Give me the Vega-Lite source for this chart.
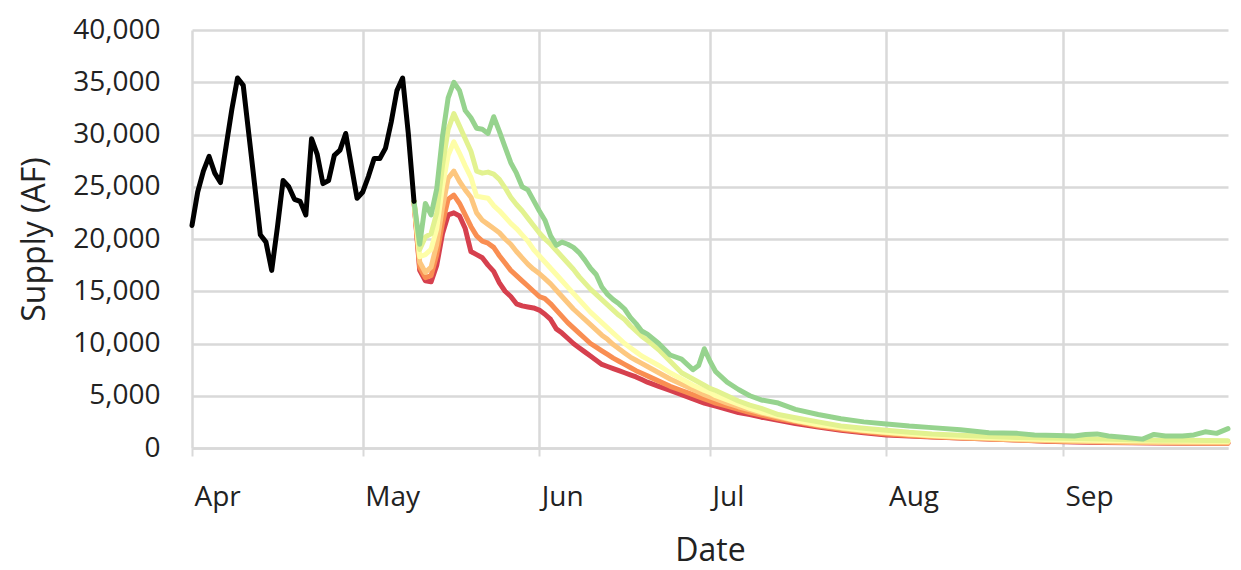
{
  "$schema": "https://vega.github.io/schema/vega-lite/v6.json",
  "width": 1036,
  "height": 418,
  "autosize": {"type": "none"},
  "padding": {"left": 192, "top": 30, "right": 13, "bottom": 122},
  "background": "white",
  "config": {
    "view": {"stroke": null},
    "font": "Open Sans",
    "mark": {"invalid": "filter"},
    "axisY": {"format": ",.0f", "labelFontSize": 28, "labelFont": "Open Sans", "labelColor": "#222222", "labelPadding": 32, "ticks": false, "domain": false, "grid": true, "gridColor": "#d9d9d9", "gridWidth": 2.5, "titleFontSize": 32, "titleFontWeight": "normal", "titleFont": "Open Sans", "titleColor": "#222222", "titleAngle": -90, "titleX": -148, "titleY": 209, "titleAlign": "center", "titleBaseline": "alphabetic"}
  },
  "data": {"values": [
    {"date": "2021-04-01", "Obs": 21300},
    {"date": "2021-04-02", "Obs": 24500},
    {"date": "2021-04-03", "Obs": 26500},
    {"date": "2021-04-04", "Obs": 27900},
    {"date": "2021-04-05", "Obs": 26300},
    {"date": "2021-04-06", "Obs": 25400},
    {"date": "2021-04-07", "Obs": 28900},
    {"date": "2021-04-08", "Obs": 32400},
    {"date": "2021-04-09", "Obs": 35400},
    {"date": "2021-04-10", "Obs": 34700},
    {"date": "2021-04-11", "Obs": 29950},
    {"date": "2021-04-12", "Obs": 25200},
    {"date": "2021-04-13", "Obs": 20400},
    {"date": "2021-04-14", "Obs": 19700},
    {"date": "2021-04-15", "Obs": 17000},
    {"date": "2021-04-16", "Obs": 21100},
    {"date": "2021-04-17", "Obs": 25600},
    {"date": "2021-04-18", "Obs": 25000},
    {"date": "2021-04-19", "Obs": 23800},
    {"date": "2021-04-20", "Obs": 23600},
    {"date": "2021-04-21", "Obs": 22300},
    {"date": "2021-04-22", "Obs": 29600},
    {"date": "2021-04-23", "Obs": 28100},
    {"date": "2021-04-24", "Obs": 25300},
    {"date": "2021-04-25", "Obs": 25600},
    {"date": "2021-04-26", "Obs": 28000},
    {"date": "2021-04-27", "Obs": 28500},
    {"date": "2021-04-28", "Obs": 30100},
    {"date": "2021-04-29", "Obs": 27000},
    {"date": "2021-04-30", "Obs": 23900},
    {"date": "2021-05-01", "Obs": 24500},
    {"date": "2021-05-02", "Obs": 26000},
    {"date": "2021-05-03", "Obs": 27700},
    {"date": "2021-05-04", "Obs": 27700},
    {"date": "2021-05-05", "Obs": 28700},
    {"date": "2021-05-06", "Obs": 31200},
    {"date": "2021-05-07", "Obs": 34200},
    {"date": "2021-05-08", "Obs": 35400},
    {"date": "2021-05-09", "Obs": 30100},
    {"date": "2021-05-10", "Obs": 23600, "G": 23600, "YG": 23600, "PY": 23600, "LO": 23600, "O": 23600, "R": 23600},
    {"date": "2021-05-11", "G": 19500, "YG": 19000, "PY": 18300, "LO": 17800, "O": 17300, "R": 17000},
    {"date": "2021-05-12", "G": 23400, "YG": 20200, "PY": 18500, "LO": 16800, "O": 16300, "R": 16000},
    {"date": "2021-05-13", "G": 22300, "YG": 20500, "PY": 19000, "LO": 17300, "O": 16500, "R": 15900},
    {"date": "2021-05-14", "G": 24800, "YG": 22500, "PY": 21000, "LO": 19500, "O": 18500, "R": 17500},
    {"date": "2021-05-15", "G": 29800, "YG": 27000, "PY": 25000, "LO": 23000, "O": 21500, "R": 20500},
    {"date": "2021-05-16", "G": 33500, "YG": 30500, "PY": 28000, "LO": 25800, "O": 23800, "R": 22300},
    {"date": "2021-05-17", "G": 35000, "YG": 32000, "PY": 29300, "LO": 26500, "O": 24200, "R": 22500},
    {"date": "2021-05-18", "G": 34200, "YG": 30800, "PY": 28200, "LO": 25500, "O": 23400, "R": 22200},
    {"date": "2021-05-19", "G": 32300, "YG": 29600, "PY": 27000, "LO": 24700, "O": 22300, "R": 21000},
    {"date": "2021-05-20", "G": 31600, "YG": 28400, "PY": 25900, "LO": 24000, "O": 21200, "R": 18800},
    {"date": "2021-05-21", "G": 30600, "YG": 26500, "PY": 24100, "LO": 22500, "O": 20300, "R": 18500},
    {"date": "2021-05-22", "G": 30500, "YG": 26300, "PY": 24000, "LO": 21800, "O": 19800, "R": 18200},
    {"date": "2021-05-23", "G": 30100, "YG": 26400, "PY": 23900, "LO": 21400, "O": 19600, "R": 17500},
    {"date": "2021-05-24", "G": 31700, "YG": 26200, "PY": 23200, "LO": 21000, "O": 19200, "R": 16900},
    {"date": "2021-05-25", "G": 30300, "YG": 25700, "PY": 22700, "LO": 20600, "O": 18400, "R": 15800},
    {"date": "2021-05-26", "G": 28800, "YG": 24900, "PY": 22100, "LO": 20000, "O": 17700, "R": 15000},
    {"date": "2021-05-27", "G": 27300, "YG": 24000, "PY": 21500, "LO": 19500, "O": 17000, "R": 14500},
    {"date": "2021-05-28", "G": 26300, "YG": 23300, "PY": 21000, "LO": 18800, "O": 16500, "R": 13800},
    {"date": "2021-05-29", "G": 25000, "YG": 22700, "PY": 20400, "LO": 18200, "O": 16000, "R": 13600},
    {"date": "2021-05-30", "G": 24700, "YG": 22000, "PY": 19800, "LO": 17600, "O": 15500, "R": 13500},
    {"date": "2021-05-31", "G": 23700, "YG": 21300, "PY": 19000, "LO": 17100, "O": 15000, "R": 13400},
    {"date": "2021-06-01", "G": 22700, "YG": 20600, "PY": 18400, "LO": 16700, "O": 14500, "R": 13200},
    {"date": "2021-06-02", "G": 21800, "YG": 20000, "PY": 17800, "LO": 16200, "O": 14300, "R": 12800},
    {"date": "2021-06-03", "G": 20300, "YG": 19500, "PY": 17200, "LO": 15700, "O": 13800, "R": 12300},
    {"date": "2021-06-04", "G": 19400, "YG": 18900, "PY": 16600, "LO": 15100, "O": 13200, "R": 11400},
    {"date": "2021-06-05", "G": 19700, "YG": 18300, "PY": 16000, "LO": 14500, "O": 12600, "R": 11000},
    {"date": "2021-06-06", "G": 19500, "YG": 17700, "PY": 15400, "LO": 13900, "O": 12000, "R": 10500},
    {"date": "2021-06-07", "G": 19200, "YG": 17100, "PY": 14800, "LO": 13300, "O": 11500, "R": 10000},
    {"date": "2021-06-08", "G": 18700, "YG": 16400, "PY": 14200, "LO": 12800, "O": 11000, "R": 9600},
    {"date": "2021-06-09", "G": 18000, "YG": 15800, "PY": 13600, "LO": 12300, "O": 10500, "R": 9200},
    {"date": "2021-06-10", "G": 17200, "YG": 15200, "PY": 13000, "LO": 11800, "O": 10000, "R": 8800},
    {"date": "2021-06-11", "G": 16600, "YG": 14700, "PY": 12500, "LO": 11300, "O": 9650, "R": 8400},
    {"date": "2021-06-12", "G": 15400, "YG": 14200, "PY": 12000, "LO": 10800, "O": 9300, "R": 8000},
    {"date": "2021-06-13", "G": 14700, "YG": 13700, "PY": 11500, "LO": 10400, "O": 8950, "R": 7800},
    {"date": "2021-06-14", "G": 14200, "YG": 13200, "PY": 11000, "LO": 9900, "O": 8600, "R": 7600},
    {"date": "2021-06-15", "G": 13800, "YG": 12700, "PY": 10500, "LO": 9500, "O": 8300, "R": 7400},
    {"date": "2021-06-16", "G": 13300, "YG": 12300, "PY": 10000, "LO": 9100, "O": 8000, "R": 7200},
    {"date": "2021-06-17", "G": 12500, "YG": 11700, "PY": 9600, "LO": 8700, "O": 7700, "R": 7000},
    {"date": "2021-06-18", "G": 11900, "YG": 11200, "PY": 9200, "LO": 8400, "O": 7400, "R": 6800},
    {"date": "2021-06-19", "G": 11200, "YG": 10700, "PY": 8800, "LO": 8100, "O": 7150, "R": 6550},
    {"date": "2021-06-20", "G": 10900, "YG": 10300, "PY": 8500, "LO": 7800, "O": 6900, "R": 6300},
    {"date": "2021-06-22", "G": 10000, "YG": 9400, "PY": 7900, "LO": 7200, "O": 6400, "R": 5900},
    {"date": "2021-06-24", "G": 8900, "YG": 8300, "PY": 7200, "LO": 6600, "O": 5900, "R": 5500},
    {"date": "2021-06-26", "G": 8500, "YG": 7200, "PY": 6600, "LO": 6100, "O": 5500, "R": 5100},
    {"date": "2021-06-28", "G": 7500, "YG": 6600, "PY": 6000, "LO": 5600, "O": 5100, "R": 4700},
    {"date": "2021-06-29", "G": 7900},
    {"date": "2021-06-30", "G": 9500, "YG": 6000, "PY": 5500, "LO": 5100, "O": 4700, "R": 4300},
    {"date": "2021-07-01", "G": 8300, "YG": 5700, "PY": 5300, "LO": 4900, "O": 4500, "R": 4150},
    {"date": "2021-07-02", "G": 7300, "YG": 5500, "PY": 5000, "LO": 4700, "O": 4300, "R": 4000},
    {"date": "2021-07-04", "G": 6300, "YG": 5000, "PY": 4600, "LO": 4300, "O": 4000, "R": 3700},
    {"date": "2021-07-06", "G": 5600, "YG": 4500, "PY": 4200, "LO": 3950, "O": 3700, "R": 3400},
    {"date": "2021-07-08", "G": 5000, "YG": 4100, "PY": 3800, "LO": 3650, "O": 3400, "R": 3200},
    {"date": "2021-07-10", "G": 4600, "YG": 3800, "PY": 3450, "LO": 3350, "O": 3150, "R": 2950},
    {"date": "2021-07-13", "G": 4300, "YG": 3200, "PY": 3050, "LO": 2950, "O": 2800, "R": 2650},
    {"date": "2021-07-16", "G": 3700, "YG": 2900, "PY": 2650, "LO": 2600, "O": 2500, "R": 2350},
    {"date": "2021-07-20", "G": 3200, "YG": 2500, "PY": 2250, "LO": 2200, "O": 2100, "R": 2000},
    {"date": "2021-07-24", "G": 2800, "YG": 2100, "PY": 1950, "LO": 1900, "O": 1800, "R": 1700},
    {"date": "2021-07-28", "G": 2500, "YG": 1900, "PY": 1700, "LO": 1650, "O": 1550, "R": 1450},
    {"date": "2021-08-01", "G": 2300, "YG": 1700, "PY": 1500, "LO": 1450, "O": 1350, "R": 1250},
    {"date": "2021-08-05", "G": 2100, "YG": 1500, "PY": 1350, "LO": 1300, "O": 1200, "R": 1150},
    {"date": "2021-08-09", "G": 1950, "YG": 1350, "PY": 1200, "LO": 1150, "O": 1080, "R": 1050},
    {"date": "2021-08-14", "G": 1750, "YG": 1230, "PY": 1080, "LO": 1000, "O": 950, "R": 950},
    {"date": "2021-08-19", "G": 1450, "YG": 1100, "PY": 980, "LO": 900, "O": 850, "R": 850},
    {"date": "2021-08-24", "G": 1400, "YG": 1000, "PY": 890, "LO": 800, "O": 760, "R": 760},
    {"date": "2021-08-27", "G": 1250},
    {"date": "2021-08-29", "YG": 950, "PY": 820, "LO": 720, "O": 680, "R": 650},
    {"date": "2021-08-31", "G": 1200},
    {"date": "2021-09-03", "G": 1150, "YG": 900, "PY": 760, "LO": 650, "O": 620, "R": 580},
    {"date": "2021-09-05", "G": 1300},
    {"date": "2021-09-07", "G": 1350},
    {"date": "2021-09-08", "YG": 850, "PY": 720, "LO": 600, "O": 570, "R": 530},
    {"date": "2021-09-09", "G": 1150},
    {"date": "2021-09-12", "G": 1000},
    {"date": "2021-09-13", "YG": 800, "PY": 690, "LO": 560, "O": 530, "R": 500},
    {"date": "2021-09-15", "G": 850},
    {"date": "2021-09-17", "G": 1300},
    {"date": "2021-09-18", "YG": 750, "PY": 660, "LO": 530, "O": 500, "R": 480},
    {"date": "2021-09-19", "G": 1150},
    {"date": "2021-09-22", "G": 1150},
    {"date": "2021-09-23", "YG": 750, "PY": 640, "LO": 510, "O": 480, "R": 460},
    {"date": "2021-09-24", "G": 1250},
    {"date": "2021-09-26", "G": 1550},
    {"date": "2021-09-28", "G": 1400},
    {"date": "2021-09-30", "G": 1850, "YG": 700, "PY": 620, "LO": 500, "O": 460, "R": 450}
  ]},
  "encoding": {
    "x": {
      "field": "date",
      "type": "temporal",
      "scale": {
        "type": "utc",
        "domain": [
          {"year": 2021, "month": 4, "date": 1, "utc": true},
          {"year": 2021, "month": 9, "date": 30, "utc": true}
        ]
      },
      "axis": {
        "title": "Date",
        "tickCount": {"interval": "month", "step": 1},
        "labelExpr": "utcFormat(datum.value, '%b')",
        "labelAlign": "left",
        "labelBaseline": "alphabetic",
        "labelOffset": 2,
        "labelPadding": 49,
        "labelFontSize": 28,
        "labelColor": "#222222",
        "labelFont": "Open Sans",
        "ticks": true,
        "tickSize": 8,
        "tickWidth": 2,
        "tickColor": "#d9d9d9",
        "domain": true,
        "domainColor": "#d9d9d9",
        "domainWidth": 2.5,
        "grid": true,
        "gridColor": "#d9d9d9",
        "gridWidth": 2.5,
        "titleFontSize": 32,
        "titleFontWeight": "normal",
        "titleColor": "#222222",
        "titleFont": "Open Sans",
        "titleX": 518,
        "titleY": 112,
        "titleAlign": "center",
        "titleBaseline": "alphabetic"
      }
    }
  },
  "layer": [
    {"mark": {"type": "line", "color": "#d6404e", "strokeWidth": 5, "strokeJoin": "round", "strokeCap": "round", "invalid": "filter"}, "encoding": {"y": {"field": "R", "type": "quantitative", "scale": {"domain": [0, 40000], "nice": false}, "axis": {"title": "Supply (AF)", "values": [0, 5000, 10000, 15000, 20000, 25000, 30000, 35000, 40000], "format": ",.0f"}}}},
    {"mark": {"type": "line", "color": "#f98e52", "strokeWidth": 5, "strokeJoin": "round", "strokeCap": "round", "invalid": "filter"}, "encoding": {"y": {"field": "O", "type": "quantitative", "scale": {"domain": [0, 40000], "nice": false}, "axis": {"title": "Supply (AF)", "values": [0, 5000, 10000, 15000, 20000, 25000, 30000, 35000, 40000], "format": ",.0f"}}}},
    {"mark": {"type": "line", "color": "#fdc77f", "strokeWidth": 5, "strokeJoin": "round", "strokeCap": "round", "invalid": "filter"}, "encoding": {"y": {"field": "LO", "type": "quantitative", "scale": {"domain": [0, 40000], "nice": false}, "axis": {"title": "Supply (AF)", "values": [0, 5000, 10000, 15000, 20000, 25000, 30000, 35000, 40000], "format": ",.0f"}}}},
    {"mark": {"type": "line", "color": "#fefea8", "strokeWidth": 5, "strokeJoin": "round", "strokeCap": "round", "invalid": "filter"}, "encoding": {"y": {"field": "PY", "type": "quantitative", "scale": {"domain": [0, 40000], "nice": false}, "axis": {"title": "Supply (AF)", "values": [0, 5000, 10000, 15000, 20000, 25000, 30000, 35000, 40000], "format": ",.0f"}}}},
    {"mark": {"type": "line", "color": "#e2f290", "strokeWidth": 5, "strokeJoin": "round", "strokeCap": "round", "invalid": "filter"}, "encoding": {"y": {"field": "YG", "type": "quantitative", "scale": {"domain": [0, 40000], "nice": false}, "axis": {"title": "Supply (AF)", "values": [0, 5000, 10000, 15000, 20000, 25000, 30000, 35000, 40000], "format": ",.0f"}}}},
    {"mark": {"type": "line", "color": "#96d38e", "strokeWidth": 5, "strokeJoin": "round", "strokeCap": "round", "invalid": "filter"}, "encoding": {"y": {"field": "G", "type": "quantitative", "scale": {"domain": [0, 40000], "nice": false}, "axis": {"title": "Supply (AF)", "values": [0, 5000, 10000, 15000, 20000, 25000, 30000, 35000, 40000], "format": ",.0f"}}}},
    {"mark": {"type": "line", "color": "#000000", "strokeWidth": 5, "strokeJoin": "round", "strokeCap": "round", "invalid": "filter"}, "encoding": {"y": {"field": "Obs", "type": "quantitative", "scale": {"domain": [0, 40000], "nice": false}, "axis": {"title": "Supply (AF)", "values": [0, 5000, 10000, 15000, 20000, 25000, 30000, 35000, 40000], "format": ",.0f"}}}}
  ],
  "resolve": {"scale": {"y": "shared"}}
}
